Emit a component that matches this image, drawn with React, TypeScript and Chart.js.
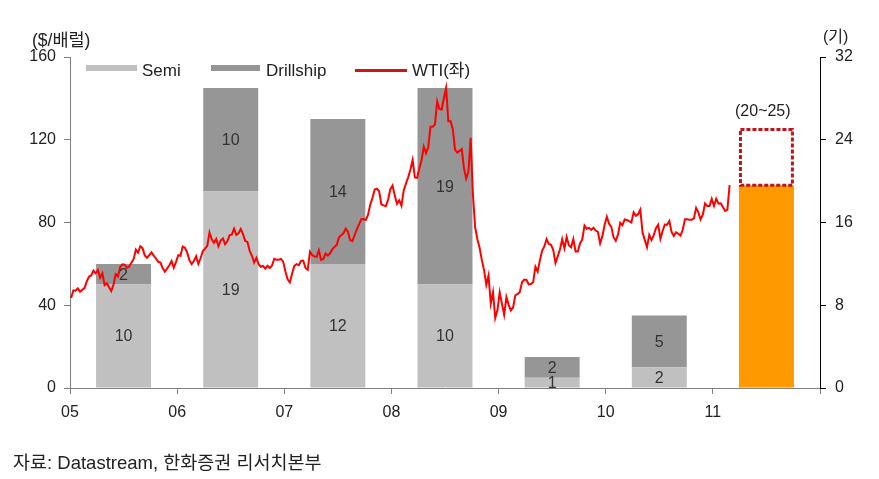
import { useEffect, useRef } from 'react';
import { Chart, registerables } from 'chart.js';

Chart.register(...registerables);

const FONT = "'Liberation Sans', Arial, 'Noto Sans CJK KR', sans-serif";

// ---- data ----
const barYears = [2005, 2006, 2007, 2008, 2009, 2010];
const semiValues = [10, 19, 12, 10, 1, 2];
const drillshipValues = [2, 10, 14, 19, 2, 5];
const forecastYear = 2011;
const forecastBar = 19.6;
const forecastHigh = 25;
const xTickLabels = ['05', '06', '07', '08', '09', '10', '11'];
const leftAxisTitle = '($/배럴)';
const rightAxisTitle = '(기)';
const forecastLabel = '(20~25)';
const sourceText = '자료: Datastream, 한화증권 리서치본부';

// WTI, roughly weekly (4 readings per month)
const wti2005 = [
  43.5, 47.2, 47.0, 48.2,
  46.5, 47.5, 48.3, 51.5,
  53.8, 54.4, 56.7, 55.4,
  57.0, 53.3, 55.4, 49.7,
  50.6, 48.7, 46.8, 50.0,
  55.0, 54.0, 58.5, 59.8,
  59.6, 58.1, 58.6, 60.6,
  62.3, 66.9, 65.4, 68.5,
  67.6, 64.1, 63.0, 64.2,
  65.5, 64.0, 62.6, 61.0,
  60.6, 58.0, 56.2, 57.7,
  59.3, 61.4, 58.1, 61.0,
];
const wti2006 = [
  64.2, 63.9, 68.4, 67.8,
  65.4, 61.8, 59.9, 61.4,
  63.7, 60.0, 62.7, 66.2,
  67.4, 68.7, 75.2, 71.9,
  70.2, 72.0, 68.5, 71.3,
  72.3, 69.5, 70.9, 73.9,
  74.1, 77.0, 74.0, 74.8,
  76.8, 74.4, 71.1, 70.6,
  66.3, 63.9, 60.6, 62.9,
  59.8, 58.6, 59.0, 57.7,
  59.1, 58.0, 59.2, 62.4,
  62.0, 62.0, 62.4, 61.1,
];
const wti2007 = [
  56.3, 52.5, 51.0, 55.4,
  59.0, 59.9, 59.4, 61.4,
  61.6, 58.0, 57.1, 65.9,
  64.3, 63.6, 63.4, 66.5,
  61.9, 62.4, 65.0, 64.0,
  65.1, 67.0, 68.2, 69.2,
  72.8, 73.9, 74.8, 77.0,
  75.5, 71.5, 71.0, 73.9,
  76.7, 79.1, 81.6, 81.7,
  81.2, 83.7, 88.6, 91.9,
  95.9, 96.3, 95.1, 88.7,
  88.3, 87.9, 91.0, 96.0,
];
const wti2008 = [
  97.9, 93.0, 89.0, 90.7,
  88.1, 95.5, 98.8, 101.8,
  105.5, 110.2, 101.8, 101.6,
  106.2, 110.1, 116.7, 113.5,
  116.3, 126.3, 126.3, 127.4,
  138.5, 134.9, 134.6, 140.2,
  145.1, 128.9, 128.9, 125.1,
  115.2, 113.8, 114.6, 115.5,
  106.2, 101.2, 104.6, 120.9,
  93.9, 77.7, 71.9, 67.8,
  61.8, 57.0, 49.9, 54.4,
  40.8, 46.3, 33.9, 37.7,
];
const wti2009 = [
  46.3, 40.8, 35.4, 44.0,
  40.2, 37.5, 38.9, 44.8,
  45.5, 46.3, 51.1, 52.4,
  52.2, 50.1, 50.3, 51.1,
  58.6, 56.3, 61.7, 66.3,
  68.4, 72.0, 69.6, 69.2,
  66.7, 60.4, 63.6, 66.9,
  71.9, 67.5, 73.0, 69.0,
  68.0, 72.0, 66.0, 66.0,
  69.9, 71.8, 78.5, 77.0,
  77.4, 76.4, 77.5, 76.1,
  75.5, 69.9, 73.4, 78.8,
];
const wti2010 = [
  82.8, 79.4, 77.9, 72.9,
  71.2, 74.1, 79.8, 78.7,
  81.5, 81.2, 80.7, 80.0,
  84.9, 83.2, 84.0, 86.2,
  75.1, 71.6, 68.0, 74.0,
  71.5, 73.8, 77.2, 78.9,
  72.1, 76.0, 79.0, 78.9,
  80.7, 75.4, 73.5, 75.2,
  74.6, 73.7, 76.5, 81.6,
  81.6, 81.3, 81.3, 82.0,
  87.0, 84.9, 81.5, 83.8,
  89.2, 88.0, 88.0, 91.4,
];
const wti2011 = [
  88.0, 91.5, 89.1, 89.3,
  87.5, 85.6, 86.2, 98.1,
];
const wtiYears = [2005, 2006, 2007, 2008, 2009, 2010, 2011];
const wtiSeries = [wti2005, wti2006, wti2007, wti2008, wti2009, wti2010, wti2011];

// calendar position of weekly reading (month index, week-in-month)
function wtiPoints() {
  const pts: { x: number; y: number }[] = [];
  wtiSeries.forEach((arr, yi) => {
    arr.forEach((v, i) => {
      const month = Math.floor(i / 4);
      const wk = i % 4;
      pts.push({ x: wtiYears[yi] + (month + (wk + 0.5) / 4) / 12, y: v });
    });
  });
  return pts;
}

const COLORS = {
  semi: '#c0c0c0',
  drill: '#969696',
  forecast: '#ff9900',
  wti: '#ff0000',
  box: '#c0141c',
  text: '#222222',
};

const barLabelPlugin = {
  id: 'barLabels',
  afterDatasetsDraw(chart: any) {
    const ctx = chart.ctx;
    ctx.save();
    ctx.font = `16px ${FONT}`;
    ctx.fillStyle = '#333';
    ctx.textAlign = 'center';
    ctx.textBaseline = 'middle';
    [0, 1].forEach((di) => {
      const meta = chart.getDatasetMeta(di);
      const ds = chart.data.datasets[di];
      meta.data.forEach((el: any, i: number) => {
        const { x, y, base } = el.getProps(['x', 'y', 'base'], true);
        ctx.fillText(String(ds.data[i].y), x, (y + base) / 2 + 1);
      });
    });
    ctx.restore();
  },
};

const rangeBoxPlugin = {
  id: 'rangeBox',
  afterDatasetsDraw(chart: any) {
    const meta = chart.getDatasetMeta(3);
    const ctx = chart.ctx;
    ctx.save();
    ctx.strokeStyle = COLORS.box;
    ctx.lineWidth = 3;
    ctx.setLineDash([4, 2]);
    meta.data.forEach((el: any) => {
      const { x, y, base, width } = el.getProps(['x', 'y', 'base', 'width'], true);
      const left = x - width / 2 + 1.5;
      const right = x + width / 2 - 1.5;
      ctx.strokeRect(left, y, right - left, base - y);
    });
    ctx.restore();
  },
};

export default function App() {
  const ref = useRef<HTMLCanvasElement>(null);

  useEffect(() => {
    const barCommon = {
      type: 'bar' as const,
      yAxisID: 'y2',
      xAxisID: 'x',
      stack: 's',
      order: 2,
      barPercentage: 0.513,
      categoryPercentage: 1,
      borderWidth: 0,
    };
    const chart = new Chart(ref.current as HTMLCanvasElement, {
      type: 'bar',
      data: {
        datasets: [
          {
            ...barCommon,
            label: 'Semi',
            data: barYears.map((yr, i) => ({ x: yr + 0.5, y: semiValues[i] })),
            backgroundColor: COLORS.semi,
          },
          {
            ...barCommon,
            label: 'Drillship',
            data: barYears.map((yr, i) => ({ x: yr + 0.5, y: drillshipValues[i] })),
            backgroundColor: COLORS.drill,
          },
          {
            ...barCommon,
            label: 'Forecast',
            data: [{ x: forecastYear + 0.5, y: forecastBar }],
            backgroundColor: COLORS.forecast,
          },
          {
            ...barCommon,
            label: 'Range',
            data: [{ x: forecastYear + 0.5, y: forecastHigh - forecastBar }],
            backgroundColor: 'rgba(0,0,0,0)',
          },
          {
            type: 'line' as const,
            label: 'WTI(좌)',
            data: wtiPoints(),
            yAxisID: 'y',
            xAxisID: 'x',
            borderColor: COLORS.wti,
            borderWidth: 2,
            pointRadius: 0,
            tension: 0,
            order: 0,
          },
        ] as any,
      },
      options: {
        responsive: false,
        animation: false,
        layout: { padding: { top: 57, right: 0, bottom: 0, left: 0 } },
        plugins: { legend: { display: false }, tooltip: { enabled: false } },
        scales: {
          x: {
            type: 'linear',
            min: 2005,
            max: 2012,
            stacked: true,
            offset: false,
            grid: { drawOnChartArea: false, drawTicks: true, tickLength: 6, color: '#808080', offset: false },
            border: { color: '#808080', width: 1 },
            ticks: {
              stepSize: 1,
              autoSkip: false,
              maxRotation: 0,
              padding: 9,
              color: COLORS.text,
              font: { size: 16, family: FONT },
              callback: (_v: any, i: number) => xTickLabels[i] ?? '',
            },
            afterFit: (s: any) => {
              s.height = 91;
            },
          },
          y: {
            position: 'left',
            min: 0,
            max: 160,
            stacked: false,
            grid: { drawOnChartArea: false, drawTicks: true, tickLength: 6, color: '#808080' },
            border: { color: '#808080', width: 1 },
            ticks: { stepSize: 40, padding: 8, color: COLORS.text, font: { size: 16, family: FONT } },
            afterFit: (s: any) => {
              s.width = 70;
            },
          },
          y2: {
            position: 'right',
            min: 0,
            max: 32,
            stacked: true,
            grid: { drawOnChartArea: false, drawTicks: true, tickLength: 6, color: '#000' },
            border: { color: '#000', width: 1 },
            ticks: { stepSize: 8, padding: 9, color: COLORS.text, font: { size: 16, family: FONT } },
            afterFit: (s: any) => {
              s.width = 59;
            },
          },
        },
      } as any,
      plugins: [barLabelPlugin, rangeBoxPlugin],
    });
    return () => chart.destroy();
  }, []);

  const text = (content: string, left: number, centerY: number, size = 16, extra: any = {}) => (
    <div
      style={{
        position: 'absolute',
        left,
        top: centerY - 11,
        height: 22,
        lineHeight: '22px',
        fontSize: size,
        color: COLORS.text,
        whiteSpace: 'nowrap',
        ...extra,
      }}
    >
      {content}
    </div>
  );

  return (
    <div
      style={{
        position: 'absolute',
        left: 0,
        top: 0,
        width: 879,
        height: 479,
        background: '#fff',
        fontFamily: FONT,
        overflow: 'hidden',
      }}
    >
      <canvas ref={ref} width={879} height={479} style={{ position: 'absolute', left: 0, top: 0 }} />
      {text(leftAxisTitle, 32, 40, 17.5)}
      {text(rightAxisTitle, 823, 37)}
      {text(forecastLabel, 735, 111)}
      {text(sourceText, 13, 463, 18.5)}
      {/* legend */}
      <div style={{ position: 'absolute', left: 86, top: 65, width: 51, height: 6, background: COLORS.semi }} />
      {text('Semi', 142, 71, 17)}
      <div style={{ position: 'absolute', left: 211, top: 65, width: 49, height: 6, background: COLORS.drill }} />
      {text('Drillship', 266, 71, 17)}
      <div style={{ position: 'absolute', left: 355, top: 69, width: 52, height: 3, background: '#d01515' }} />
      {text('WTI(좌)', 412, 71, 17)}
    </div>
  );
}
